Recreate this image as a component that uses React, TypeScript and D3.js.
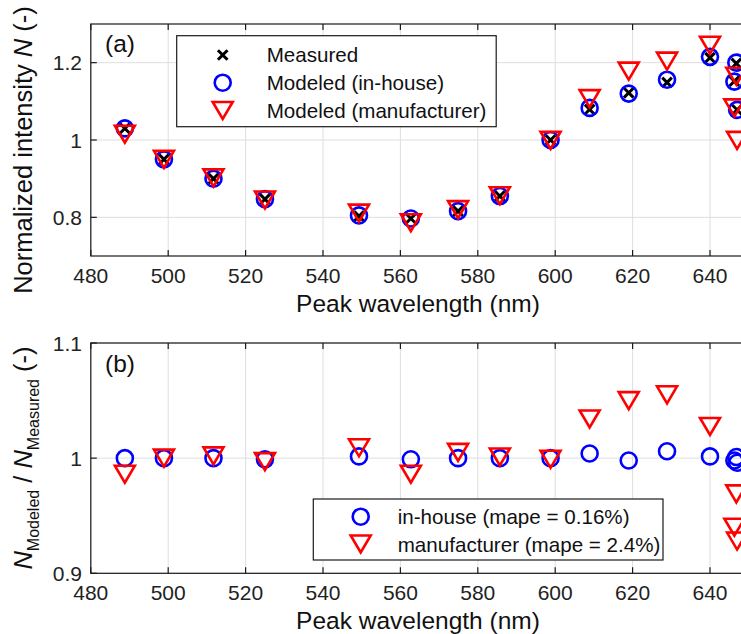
import React from "react";
import * as d3 from "d3";

const wavelength = [488.8, 498.9, 511.7, 525.0, 549.3, 562.7, 574.9, 585.7, 598.8, 608.9, 619.0, 628.9, 640.0, 646.8, 646.3, 647.0];
const measured = [1.03, 0.95, 0.9, 0.847, 0.803, 0.797, 0.816, 0.855, 1.0, 1.079, 1.122, 1.149, 1.213, 1.198, 1.152, 1.078];
const inHouse = [1.03, 0.95, 0.9, 0.847, 0.805, 0.797, 0.816, 0.855, 1.0, 1.083, 1.12, 1.156, 1.215, 1.2, 1.151, 1.078];
const manufacturer = [1.015, 0.95, 0.902, 0.845, 0.811, 0.786, 0.82, 0.856, 0.999, 1.107, 1.178, 1.204, 1.245, 1.165, 1.083, 0.999];
const ratioInHouse = [1.0, 1.0, 1.0, 0.999, 1.0015, 0.999, 1.0, 1.0, 1.0, 1.004, 0.998, 1.006, 1.0015, 1.001, 0.998, 0.996];
const ratioManufacturer = [0.986, 1.0, 1.002, 0.997, 1.009, 0.986, 1.005, 1.001, 0.999, 1.034, 1.05, 1.055, 1.0275, 0.969, 0.94, 0.928];

const xTicks = [480, 500, 520, 540, 560, 580, 600, 620, 640];
const yTicksTop = [0.8, 1, 1.2];
const yTicksBottom = [0.9, 1, 1.1];
const legendTop = ["Measured", "Modeled (in-house)", "Modeled (manufacturer)"];
const legendBottom = ["in-house (mape = 0.16%)", "manufacturer (mape = 2.4%)"];

const FONT = "'Liberation Sans', Arial, Helvetica, sans-serif";
const BLUE = "#0000ff";
const RED = "#ff0000";
const GRID = "#dedede";
const AX = "#1a1a1a";

const left = 90.8;
const right = 748.7;

const x = d3.scaleLinear().domain([480, 650]).range([left, right]);

function Circle({ cx, cy }: { cx: number; cy: number }) {
  return <circle cx={cx} cy={cy} r={8} fill="none" stroke={BLUE} strokeWidth={2.6} />;
}
function Tri({ cx, cy }: { cx: number; cy: number }) {
  const w = 10, h = 8.5;
  return (
    <path
      d={`M${cx - w},${cy - h}L${cx + w},${cy - h}L${cx},${cy + h}Z`}
      fill="none"
      stroke={RED}
      strokeWidth={2.6}
      strokeLinejoin="miter"
    />
  );
}
function Cross({ cx, cy }: { cx: number; cy: number }) {
  const s = 4.8;
  return (
    <path
      d={`M${cx - s},${cy - s}L${cx + s},${cy + s}M${cx - s},${cy + s}L${cx + s},${cy - s}`}
      stroke="#000"
      strokeWidth={3}
    />
  );
}

function Frame({ y, ticksY, top, bottom, fmt, tickBaseline }: any) {
  return (
    <g>
      {xTicks.map((t) => (
        <line key={"gx" + t} x1={x(t)} x2={x(t)} y1={top} y2={bottom} stroke={GRID} strokeWidth={1} />
      ))}
      {ticksY.map((t: number) => (
        <line key={"gy" + t} x1={left} x2={right} y1={y(t)} y2={y(t)} stroke={GRID} strokeWidth={1} />
      ))}
      <rect x={left} y={top} width={right - left} height={bottom - top} fill="none" stroke={AX} strokeWidth={1.2} />
      {xTicks.map((t) => (
        <g key={"tx" + t}>
          <line x1={x(t)} x2={x(t)} y1={bottom} y2={bottom - 6} stroke={AX} strokeWidth={1.2} />
          <line x1={x(t)} x2={x(t)} y1={top} y2={top + 6} stroke={AX} strokeWidth={1.2} />
          <text x={x(t)} y={tickBaseline} textAnchor="middle" fontSize={21} fill="#222" fontFamily={FONT}>
            {t}
          </text>
        </g>
      ))}
      {ticksY.map((t: number) => (
        <g key={"ty" + t}>
          <line x1={left} x2={left + 6} y1={y(t)} y2={y(t)} stroke={AX} strokeWidth={1.2} />
          <text x={82} y={y(t) + 7.5} textAnchor="end" fontSize={21} fill="#222" fontFamily={FONT}>
            {fmt(t)}
          </text>
        </g>
      ))}
    </g>
  );
}

export default function App() {
  const topT = 24, topB = 256;
  const botT = 343, botB = 573.3;
  const yTop = d3.scaleLinear().domain([0.7, 1.3]).range([topB, topT]);
  const yBot = d3.scaleLinear().domain([0.9, 1.1]).range([botB, botT]);
  const fmt = (v: number) => (v === 1 ? "1" : String(v));

  return (
    <svg
      width={741}
      height={634}
      style={{ position: "absolute", left: 0, top: 0, background: "#fff" }}
      fontFamily={FONT}
    >
      <rect x={0} y={0} width={741} height={634} fill="#fff" />

      {/* Panel (a) */}
      <Frame y={yTop} ticksY={yTicksTop} top={topT} bottom={topB} fmt={fmt} tickBaseline={283} />
      <g>
        {wavelength.map((w, i) => (
          <Cross key={"m" + i} cx={x(w)} cy={yTop(measured[i])} />
        ))}
        {wavelength.map((w, i) => (
          <Circle key={"c" + i} cx={x(w)} cy={yTop(inHouse[i])} />
        ))}
        {wavelength.map((w, i) => (
          <Tri key={"t" + i} cx={x(w)} cy={yTop(manufacturer[i])} />
        ))}
      </g>
      <text x={105} y={52} fontSize={24.5} fill="#111">(a)</text>
      <g>
        <rect x={176.7} y={35.7} width={319.5} height={91} fill="#fff" stroke={AX} strokeWidth={1.2} />
        <Cross cx={222.7} cy={55} />
        <Circle cx={222.7} cy={82.7} />
        <Tri cx={222.7} cy={110.5} />
        {legendTop.map((s, i) => (
          <text key={s} x={266.7} y={55 + i * 27.7 + 7.3} fontSize={20.6} fill="#111">
            {s}
          </text>
        ))}
      </g>
      <text x={418} y={311.5} textAnchor="middle" fontSize={24.5} fill="#111">
        Peak wavelength (nm)
      </text>
      <text transform="translate(32,150) rotate(-90)" textAnchor="middle" fontSize={25.5} fill="#111">
        Normalized intensity <tspan fontStyle="italic">N</tspan> (-)
      </text>

      {/* Panel (b) */}
      <Frame y={yBot} ticksY={yTicksBottom} top={botT} bottom={botB} fmt={fmt} tickBaseline={600} />
      <g>
        {wavelength.map((w, i) => (
          <Circle key={"bc" + i} cx={x(w)} cy={yBot(ratioInHouse[i])} />
        ))}
        {wavelength.map((w, i) => (
          <Tri key={"bt" + i} cx={x(w)} cy={yBot(ratioManufacturer[i])} />
        ))}
      </g>
      <text x={105} y={371.5} fontSize={24.5} fill="#111">(b)</text>
      <g>
        <rect x={313.3} y={499} width={349.7} height={61} fill="#fff" stroke={AX} strokeWidth={1.2} />
        <Circle cx={360.7} cy={516.7} />
        <Tri cx={360.7} cy={544} />
        {legendBottom.map((s, i) => (
          <text key={s} x={397.7} y={516.7 + i * 28 + 7.3} fontSize={20.6} fill="#111">
            {s}
          </text>
        ))}
      </g>
      <text x={418} y={628.5} textAnchor="middle" fontSize={24.5} fill="#111">
        Peak wavelength (nm)
      </text>
      <text transform="translate(32,458) rotate(-90)" textAnchor="middle" fontSize={25.5} fill="#111">
        <tspan fontStyle="italic">N</tspan>
        <tspan fontSize={16} dy={7}>Modeled</tspan>
        <tspan dy={-7}> / </tspan>
        <tspan fontStyle="italic">N</tspan>
        <tspan fontSize={16} dy={7}>Measured</tspan>
        <tspan dy={-7}> (-)</tspan>
      </text>
    </svg>
  );
}
